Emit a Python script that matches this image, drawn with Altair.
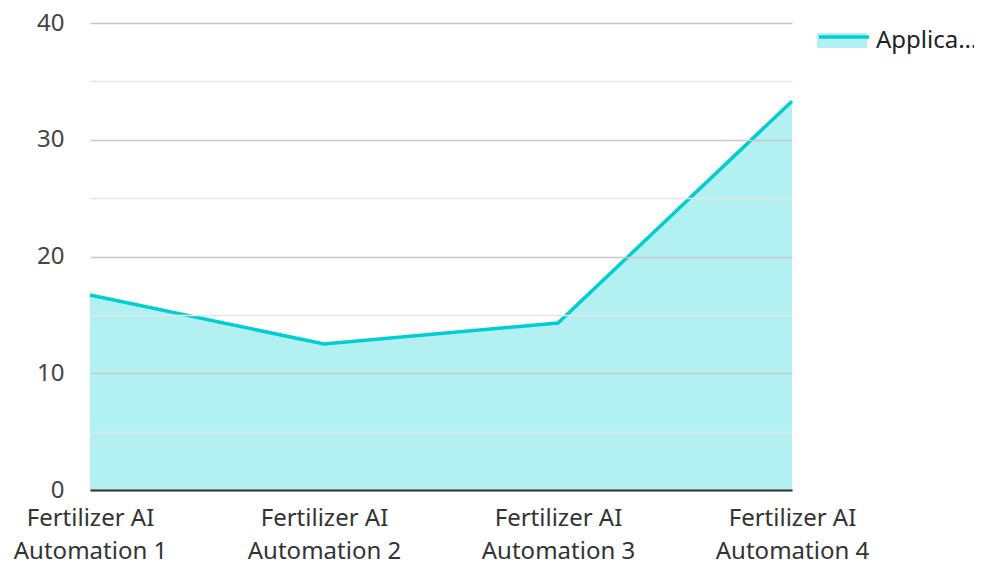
import altair as alt
import pandas as pd

categories = ["Fertilizer AI Automation 1", "Fertilizer AI Automation 2",
              "Fertilizer AI Automation 3", "Fertilizer AI Automation 4"]
values = [16.7, 12.5, 14.3, 33.3]
series_name = "Application Rate"
y_ticks = [0, 5, 10, 15, 20, 25, 30, 35, 40]

df = pd.DataFrame({"category": categories, "value": values, "series": [series_name] * len(values)})

FONT = "Noto Sans"
LINE = "#00CED1"
FILL = "#B2F0F1"
FS = 24

x_enc = alt.X(
    "category:N", sort=categories, title=None,
    scale=alt.Scale(type="point", padding=0),
    axis=alt.Axis(
        labelAngle=0, labelFontSize=FS, labelColor="#333333", labelFont=FONT,
        labelPadding=16, labelLineHeight=33, labelBaseline="top",
        labelExpr="[slice(datum.label, 0, 13), slice(datum.label, 14)]",
        ticks=False, grid=False, domain=True, domainColor="#333333", domainWidth=2,
        labelFlush=False, labelOverlap=False, zindex=2,
    ),
)
y_enc = alt.Y(
    "value:Q", title=None,
    scale=alt.Scale(domain=[0, 40], nice=False),
    axis=alt.Axis(
        values=y_ticks, labelFontSize=FS, labelColor="#444444", labelFont=FONT,
        labelPadding=26, ticks=False, domain=False, labelOverlap=False,
        labelExpr="datum.value % 10 === 0 ? datum.label : ''",
        gridColor={"condition": {"test": "datum.value % 10 === 0", "value": "#c8c8c8"}, "value": "#e6e6e6"},
        gridWidth=1.5, zindex=1,
    ),
)

area = alt.Chart(df).mark_area(interpolate="linear").encode(
    x=x_enc, y=y_enc,
    fill=alt.Fill("series:N", scale=alt.Scale(range=[FILL]),
                  legend=alt.Legend(
                      title=None, orient="none", legendX=727, legendY=-7.5,
                      symbolType="M-1,-0.3H1V0.3H-1Z", symbolSize=2500, symbolStrokeWidth=0,
                      symbolOpacity=1,
                      labelFont=FONT, labelFontSize=FS, labelColor="#222222",
                      labelLimit=104, labelOffset=9, padding=0,
                  )),
)
line = alt.Chart(df).mark_line(strokeWidth=3.5, interpolate="linear").encode(
    x=x_enc, y=y_enc,
    stroke=alt.Stroke("series:N", scale=alt.Scale(range=[LINE]),
                      legend=alt.Legend(
                          title=None, orient="none", legendX=727, legendY=-7.5,
                          symbolType="M-1,-0.22H1", symbolSize=2500, symbolStrokeWidth=3.5,
                          symbolFillColor="transparent",
                          labelFont=FONT, labelFontSize=FS, labelColor="#222222",
                          labelOpacity=0, labelLimit=104, labelOffset=9, padding=0,
                      )),
)

chart = alt.layer(area, line).resolve_scale(fill="independent", stroke="independent").properties(
    width=702, height=467,
    background="white",
    autosize=alt.AutoSizeParams(type="none"),
    padding={"left": 82, "top": 15, "right": 182, "bottom": 72},
).configure_view(stroke=None)

chart.save("out.html", embed_options={"renderer": "svg", "actions": False})
